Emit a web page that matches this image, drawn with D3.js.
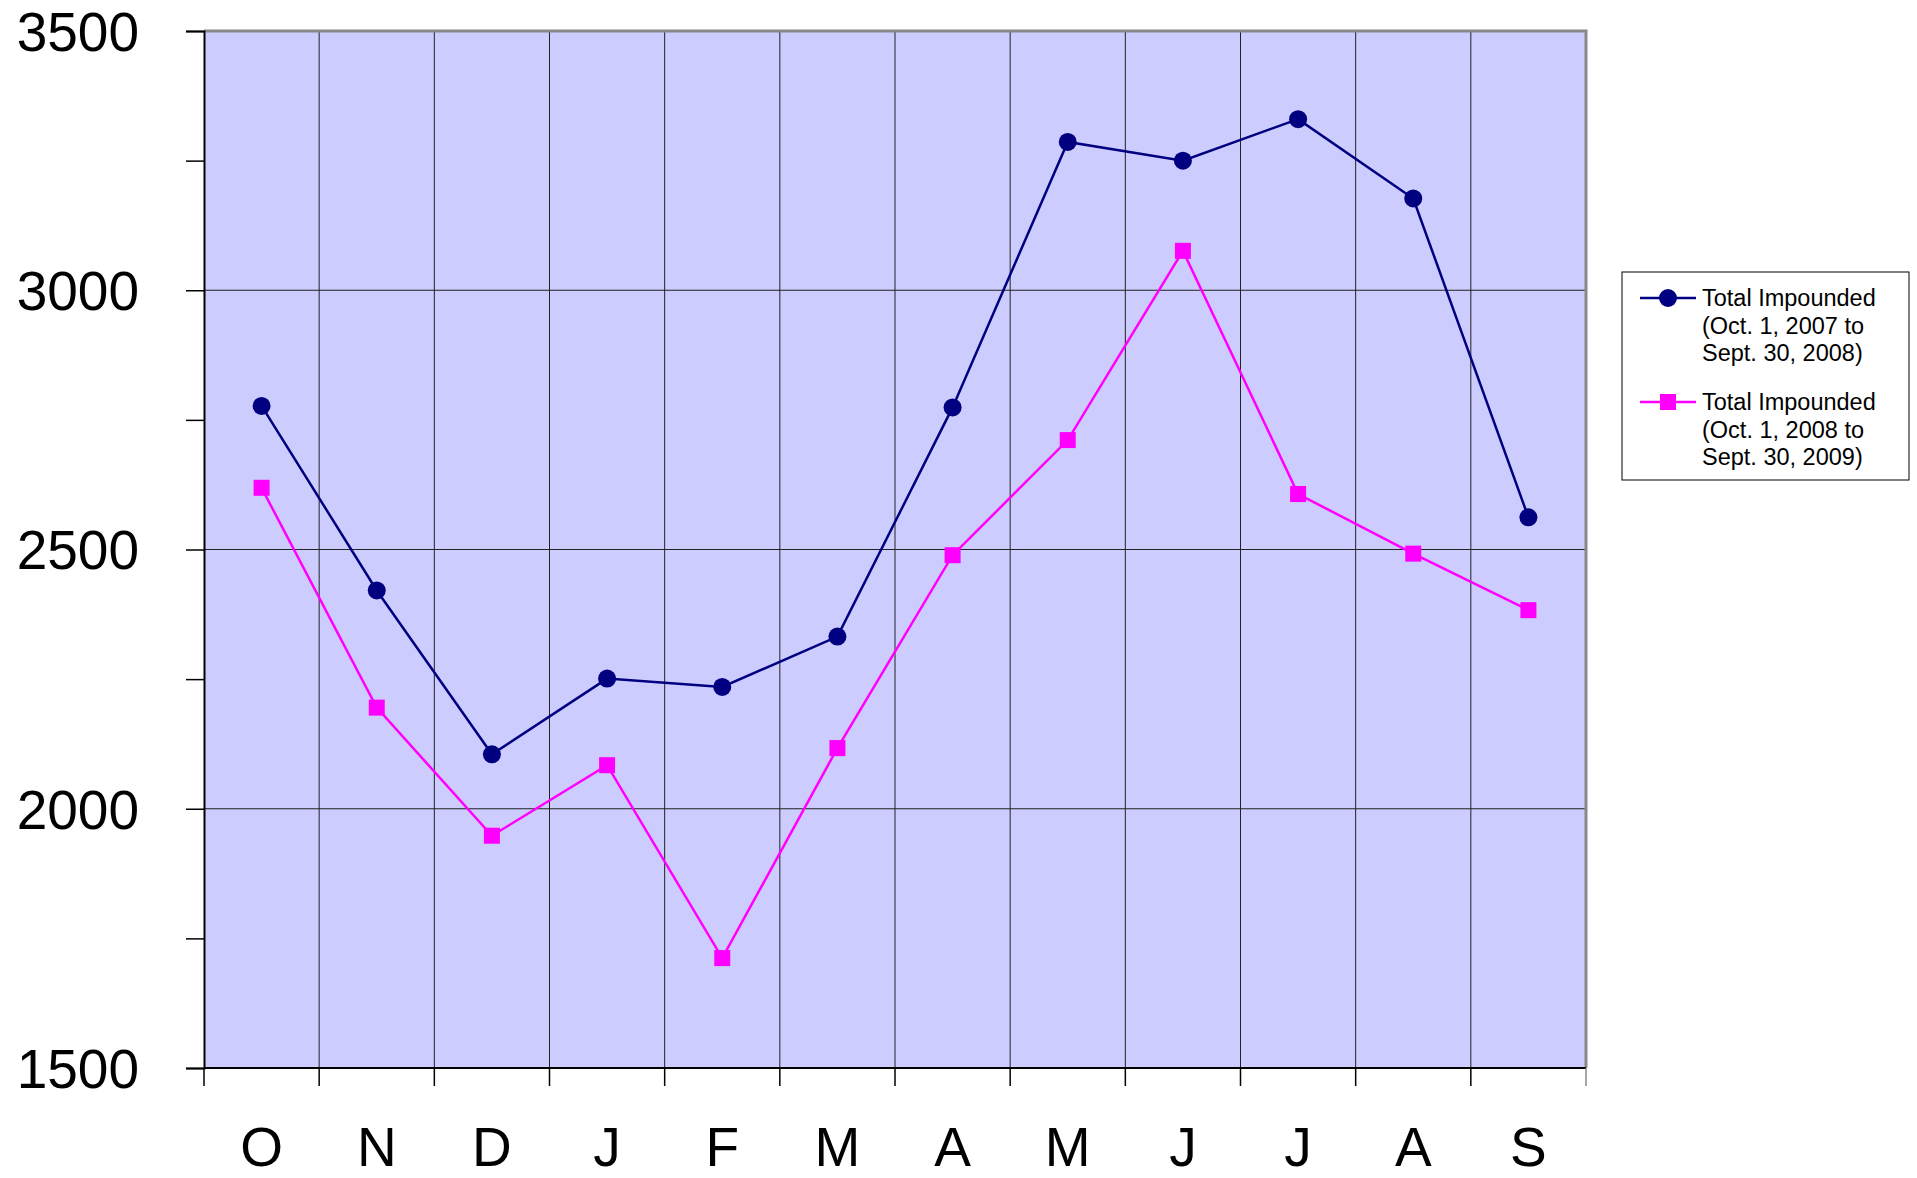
<!DOCTYPE html>
<html>
<head>
<meta charset="utf-8">
<script src="https://cdn.jsdelivr.net/npm/d3@7"></script>
<style>
  body { margin: 0; background: #fff; }
  text { font-family: "Liberation Sans", Arial, sans-serif; }
</style>
</head>
<body>
<div id="chart"></div>
<script>
// months Oct -> Sep
let months = ["O", "N", "D", "J", "F", "M", "A", "M", "J", "J", "A", "S"];
let impounded0708 = [2777, 2421, 2105, 2251, 2235, 2332, 2774, 3286, 3250, 3330, 3177, 2562];
let impounded0809 = [2619, 2195, 1948, 2084, 1712, 2117, 2489, 2711, 3076, 2607, 2492, 2383];
let yTicks = [1500, 2000, 2500, 3000, 3500];
let yMinorTicks = [1750, 2250, 2750, 3250];
let legendLabels = [
    ["Total Impounded", "(Oct. 1, 2007 to", "Sept. 30, 2008)"],
    ["Total Impounded", "(Oct. 1, 2008 to", "Sept. 30, 2009)"]
];

let width = 1917;
let height = 1178;
let margins = { top: 31, right: 331, bot: 110, left: 204 };
let chartWidth = width - margins.left - margins.right;
let chartHeight = height - margins.top - margins.bot;

let svg = d3.select("#chart")
    .append("svg")
    .attr("width", width)
    .attr("height", height);

let g = svg.append("g")
    .attr("transform", "translate(" + margins.left + "," + margins.top + ")");

let xScale = d3.scaleBand()
    .domain(d3.range(months.length))
    .range([0, chartWidth]);
let yScale = d3.scaleLinear()
    .domain([1500, 3500])
    .range([chartHeight, 0]);

// plot background
g.append("rect")
    .attr("width", chartWidth)
    .attr("height", chartHeight)
    .attr("fill", "#ccccff");

// horizontal grid
g.selectAll(".hgrid")
    .data(yTicks.slice(1, -1))
    .enter().append("line")
    .attr("x1", 0)
    .attr("x2", chartWidth)
    .attr("y1", d => yScale(d))
    .attr("y2", d => yScale(d))
    .attr("stroke", "#222")
    .attr("stroke-width", 1);

// vertical grid
g.selectAll(".vgrid")
    .data(d3.range(1, months.length))
    .enter().append("line")
    .attr("x1", d => xScale(d))
    .attr("x2", d => xScale(d))
    .attr("y1", 0)
    .attr("y2", chartHeight)
    .attr("stroke", "#222")
    .attr("stroke-width", 1);

// top / right border (gray)
g.append("path")
    .attr("d", "M0,0H" + chartWidth + "V" + chartHeight)
    .attr("fill", "none")
    .attr("stroke", "#888")
    .attr("stroke-width", 3);

// y axis
let yAxis = g.append("g")
    .call(d3.axisLeft(yScale)
        .tickValues(yTicks.concat(yMinorTicks))
        .tickSize(18)
        .tickFormat(d => yTicks.includes(d) ? d : ""));
yAxis.select(".domain").attr("stroke", "#000").attr("stroke-width", 2);
yAxis.selectAll(".tick line").attr("stroke", "#000").attr("stroke-width", 1.5);
yAxis.selectAll(".tick text")
    .attr("x", -65)
    .attr("dy", "0.35em")
    .attr("font-size", 55)
    .attr("fill", "#000")
    .style("font-family", "'Liberation Sans', Arial, sans-serif");

// x axis
let xTickPos = d3.range(months.length + 1).map(i => i * xScale.bandwidth());
let xAxisG = g.append("g")
    .attr("transform", "translate(0," + chartHeight + ")");
xAxisG.append("line")
    .attr("x1", 0).attr("x2", chartWidth)
    .attr("stroke", "#000").attr("stroke-width", 2);
xAxisG.selectAll(".xtick")
    .data(xTickPos)
    .enter().append("line")
    .attr("x1", d => d).attr("x2", d => d)
    .attr("y1", 0).attr("y2", 18)
    .attr("stroke", (d, i) => i == months.length ? "#888" : "#000")
    .attr("stroke-width", 1.5);
xAxisG.selectAll(".xlabel")
    .data(months)
    .enter().append("text")
    .attr("x", (d, i) => xScale(i) + xScale.bandwidth() / 2)
    .attr("y", 98)
    .attr("text-anchor", "middle")
    .attr("font-size", 55)
    .attr("fill", "#000")
    .text(d => d);

let series = [
    { values: impounded0708, color: "#000080", shape: "circle" },
    { values: impounded0809, color: "#ff00ff", shape: "square" }
];

let line = d3.line()
    .x((d, i) => xScale(i) + xScale.bandwidth() / 2)
    .y(d => yScale(d));

function drawMarker(sel, shape, color) {
    if (shape == "circle") {
        sel.append("circle").attr("r", 9).attr("fill", color);
    } else {
        sel.append("rect")
            .attr("x", -8).attr("y", -8)
            .attr("width", 16).attr("height", 16)
            .attr("fill", color);
    }
}

series.forEach(function (s) {
    g.append("path")
        .datum(s.values)
        .attr("fill", "none")
        .attr("stroke", s.color)
        .attr("stroke-width", 2.5)
        .attr("d", line);
    s.values.forEach(function (v, i) {
        let m = g.append("g")
            .attr("transform", "translate(" + (xScale(i) + xScale.bandwidth() / 2) + "," + yScale(v) + ")");
        drawMarker(m, s.shape, s.color);
    });
});

// legend
let legend = svg.append("g").attr("transform", "translate(1622,272)");
legend.append("rect")
    .attr("width", 287)
    .attr("height", 208)
    .attr("fill", "#fff")
    .attr("stroke", "#000")
    .attr("stroke-width", 1);
series.forEach(function (s, k) {
    let cy = 26 + k * 104;
    legend.append("line")
        .attr("x1", 18).attr("x2", 74)
        .attr("y1", cy).attr("y2", cy)
        .attr("stroke", s.color).attr("stroke-width", 2.5);
    let m = legend.append("g").attr("transform", "translate(46," + cy + ")");
    drawMarker(m, s.shape, s.color);
    legend.append("g").selectAll("text")
        .data(legendLabels[k])
        .enter().append("text")
        .attr("x", 80)
        .attr("y", (d, j) => cy + 8 + j * 27.5)
        .attr("font-size", 23.5)
        .attr("fill", "#000")
        .text(d => d);
});
</script>
</body>
</html>
